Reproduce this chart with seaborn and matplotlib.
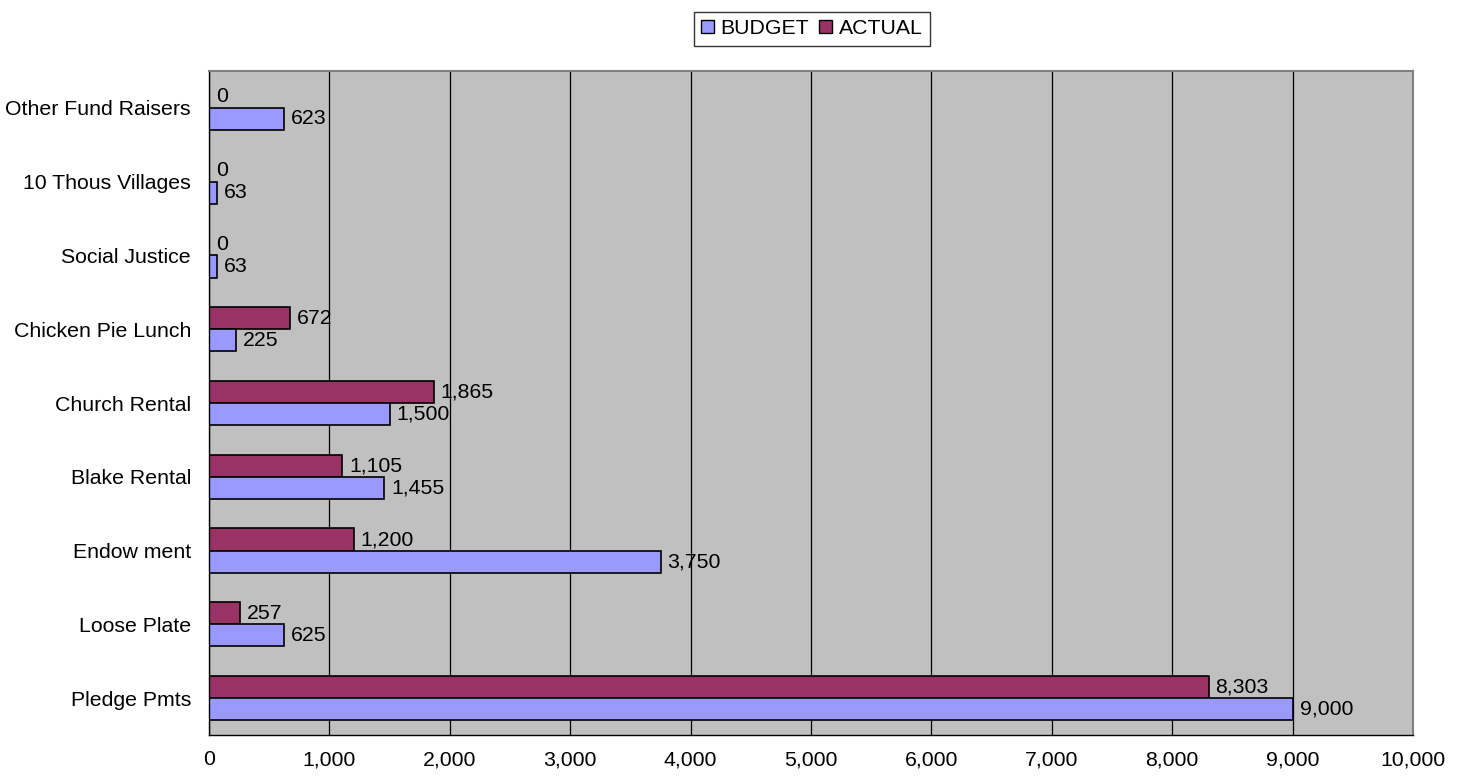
import pandas as pd
import seaborn as sns
import matplotlib.pyplot as plt
from matplotlib.ticker import FuncFormatter, MultipleLocator, FixedLocator

# Data (top to bottom as shown)
categories = ['Other Fund Raisers', '10 Thous Villages', 'Social Justice', 'Chicken Pie Lunch',
              'Church Rental', 'Blake Rental', 'Endow ment', 'Loose Plate', 'Pledge Pmts']
budget = [623, 63, 63, 225, 1500, 1455, 3750, 625, 9000]
actual = [0, 0, 0, 672, 1865, 1105, 1200, 257, 8303]

df = pd.DataFrame({'category': categories * 2,
                   'series': ['ACTUAL'] * len(categories) + ['BUDGET'] * len(categories),
                   'value': actual + budget})

sns.set_style('white')
plt.rcParams['font.family'] = ['Liberation Sans', 'DejaVu Sans']
plt.rcParams['text.color'] = 'black'
plt.rcParams['xtick.color'] = 'black'
plt.rcParams['ytick.color'] = 'black'

colors = {'BUDGET': '#9999FF', 'ACTUAL': '#993366'}
fs = 15.3

fig = plt.figure(figsize=(14.68, 7.76), dpi=100)
ax = fig.add_axes([0.1424, 0.0528, 0.8201, 0.8557])

sns.barplot(data=df, y='category', x='value', hue='series', order=categories,
            hue_order=['ACTUAL', 'BUDGET'], palette=colors, orient='h', width=0.6,
            saturation=1, edgecolor='black', linewidth=1.2, ax=ax, legend=False)

ax.set_facecolor('#C0C0C0')
ax.set_xlim(0, 10000)
ax.xaxis.set_major_locator(MultipleLocator(1000))
ax.xaxis.set_major_formatter(FuncFormatter(lambda v, p: f'{int(v):,}'))
ax.grid(axis='x', color='black', linewidth=0.9)
ax.set_axisbelow(True)
ax.set_xlabel('')
ax.set_ylabel('')

# y ticks sit between categories
ax.set_ylim(len(categories) - 0.5, -0.5)
ax.yaxis.set_major_locator(FixedLocator(range(len(categories))))
ax.set_yticklabels(categories)
ax.yaxis.set_minor_locator(FixedLocator([i - 0.5 for i in range(len(categories) + 1)]))
ax.tick_params(axis='y', which='major', length=0, pad=13, labelsize=fs, labelcolor='black')
ax.tick_params(axis='y', which='minor', length=6, width=1, color='black', direction='out')
ax.tick_params(axis='x', length=6, width=1, color='black', direction='out', pad=5,
               labelsize=fs, labelcolor='black')

for side in ['left', 'bottom']:
    ax.spines[side].set_color('black')
    ax.spines[side].set_linewidth(1)
for side in ['top', 'right']:
    ax.spines[side].set_color('#808080')
    ax.spines[side].set_linewidth(1.5)

for cont in ax.containers:
    vals = [p.get_width() for p in cont]
    ax.bar_label(cont, labels=[f'{v:,.0f}' for v in vals], padding=5, fontsize=fs, color='black')

handles = [plt.Rectangle((0, 0), 1, 1, facecolor=colors[s], edgecolor='black') for s in ['BUDGET', 'ACTUAL']]
leg = fig.legend(handles, ['BUDGET', 'ACTUAL'], loc='center', bbox_to_anchor=(0.553, 0.963),
                 ncol=2, frameon=True, fancybox=False, edgecolor='black', fontsize=fs,
                 handlelength=0.6, handleheight=0.6, handletextpad=0.3, columnspacing=0.5,
                 borderpad=0.35)
leg.get_frame().set_linewidth(1)

fig.savefig('out.png', dpi=100)
